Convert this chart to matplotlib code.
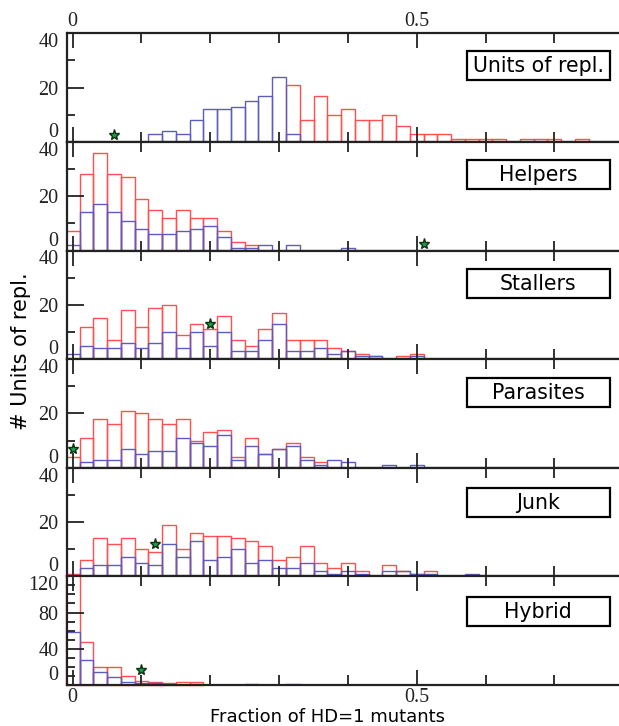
import numpy as np
import matplotlib
matplotlib.use('Agg')
import matplotlib.pyplot as plt
from matplotlib.patches import Rectangle

W, H = 619, 726
DPI = 100
BIN_WIDTH = 0.02

panel_names = ['Units of repl.', 'Helpers', 'Stallers', 'Parasites', 'Junk', 'Hybrid']

# counts per bin, bin k is centred at 0.02*k
units_red = [0, 0, 0, 0, 0, 0, 0, 0, 0, 0, 0, 0, 0, 0, 0, 0, 21, 8, 17, 10,
             12, 8, 8, 10, 6, 3, 3, 3, 1, 1, 1, 1, 0, 1, 1, 1, 0, 1]
units_blue = [0, 0, 0, 0, 0, 0, 3, 4, 3, 8, 12, 12, 13, 15, 17, 24, 3]

helpers_red = [7, 28, 36, 28, 27, 19, 15, 12, 15, 12, 12, 7, 3, 2, 0, 0, 0]
helpers_blue = [2, 14, 17, 14, 11, 8, 6, 6, 7, 8, 9, 5, 1, 1, 2, 0, 2, 0, 0, 0, 1]

stallers_red = [0, 12, 15, 7, 18, 12, 19, 20, 9, 13, 11, 16, 7, 5, 11, 17, 7, 7, 7,
                4, 3, 2, 1, 0, 1, 2]
stallers_blue = [2, 5, 4, 4, 6, 4, 6, 10, 4, 10, 5, 10, 3, 3, 7, 13, 3, 3, 4,
                 2, 3, 1, 1, 0, 0, 1]

parasites_red = [4, 11, 18, 16, 21, 20, 18, 16, 18, 10, 13, 14, 4, 11, 5, 7, 9, 4, 2]
parasites_blue = [0, 2, 3, 3, 7, 5, 6, 6, 11, 9, 8, 12, 3, 8, 5, 7, 8, 3, 1,
                  3, 2, 0, 0, 1, 0, 1]

junk_red = [1, 6, 14, 12, 14, 10, 9, 19, 10, 16, 15, 15, 14, 13, 11, 6, 7, 11, 5,
            3, 5, 2, 0, 4, 2, 1, 2]
junk_blue = [0, 3, 4, 4, 7, 5, 4, 12, 7, 13, 6, 7, 10, 5, 6, 3, 3, 5, 2,
             1, 2, 1, 0, 2, 2, 1, 1, 0, 0, 1]

hybrid_red = [121, 47, 20, 20, 10, 4, 3, 2, 3, 3]
hybrid_blue = [58, 27, 14, 9, 3, 2, 2, 1, 0, 1, 0, 0, 0, 1, 0, 0, 1]

red_series = [units_red, helpers_red, stallers_red, parasites_red, junk_red, hybrid_red]
blue_series = [units_blue, helpers_blue, stallers_blue, parasites_blue, junk_blue, hybrid_blue]

# green star per panel
marker_x = [0.06, 0.51, 0.20, 0.0, 0.12, 0.10]
marker_y = [2.5, 2.5, 13, 7, 12, 16]

y_max = [40, 40, 40, 40, 40, 120]

RED = '#ff4f4f'
BLUE = '#5c5cbc'
SERIF = 'Liberation Serif'


def fx(px):
    return px / W


def fy(py):
    return 1 - py / H


fig = plt.figure(figsize=(W / DPI, H / DPI), dpi=DPI)

left_px, right_px = 66.7, 619
top_px, panel_h = 33.3, 108.6
box_tops = [50.7, 160, 269, 378, 488, 597]

for i, name in enumerate(panel_names):
    t = top_px + i * panel_h
    ax = fig.add_axes([fx(left_px), fy(t + panel_h), fx(right_px) - fx(left_px), panel_h / H])

    red = red_series[i]
    blue = blue_series[i]
    xr = np.arange(len(red)) * BIN_WIDTH
    xb = np.arange(len(blue)) * BIN_WIDTH
    ax.bar(xr, red, width=BIN_WIDTH, fill=False, edgecolor=RED, linewidth=1.0,
           clip_on=(i != 5))
    ax.bar(xb, blue, width=BIN_WIDTH, fill=False, edgecolor=BLUE, linewidth=1.0)
    ax.plot(marker_x[i], marker_y[i], marker='*', markersize=8, mfc='#10a050',
            mec='#103010', mew=1.0, zorder=5, clip_on=False)

    ax.set_xlim(-0.0087, 0.794)
    ax.set_ylim(0, y_max[i])

    ax.set_xticks([0, 0.5])
    ax.set_xticks([0.1, 0.2, 0.3, 0.4, 0.6, 0.7], minor=True)
    ax.set_xticklabels(['0', '0.5'])

    if y_max[i] == 40:
        ax.set_yticks([0, 20, 40])
        ax.set_yticks([10, 30], minor=True)
        ax.set_yticklabels(['0', '20', '40'])
    else:
        ax.set_yticks([0, 40, 80, 120])
        ax.set_yticks([10, 20, 30, 50, 60, 70, 90, 100, 110], minor=True)
        ax.set_yticklabels(['0', '40', '80', '120'])

    ax.tick_params(axis='both', which='both', direction='in', width=1.3,
                   colors='#222222', labelsize=14.5, labelfontfamily=SERIF)
    ax.tick_params(axis='x', which='major', length=11, top=True, bottom=True, pad=2)
    ax.tick_params(axis='x', which='minor', length=7, top=True, bottom=True)
    ax.tick_params(axis='y', which='major', length=12, pad=6)
    ax.tick_params(axis='y', which='minor', length=6)
    ax.tick_params(axis='x', labelbottom=(i == 5), labeltop=(i == 0))

    ticks = ax.yaxis.get_major_ticks()
    ticks[0].label1.set_verticalalignment('bottom')
    ticks[-1].label1.set_verticalalignment('top')

    for side in ['left', 'top', 'bottom']:
        ax.spines[side].set_linewidth(1.6)
        ax.spines[side].set_color('#222222')
    ax.spines['right'].set_visible(False)

    # label box
    bt = box_tops[i]
    fig.patches.append(Rectangle((fx(466.7), fy(bt + 29)), fx(610) - fx(466.7), 29 / H,
                                 transform=fig.transFigure, fill=False,
                                 edgecolor='black', linewidth=1.6, zorder=10))
    fig.text(fx(538.3), fy(bt + 15), name, ha='center', va='center',
             fontsize=14.8, family='DejaVu Sans')

fig.text(fx(21), fy(351), '# Units of repl.', rotation=90, ha='center', va='center',
         fontsize=15, family='DejaVu Sans')
fig.text(fx(327), fy(717), 'Fraction of HD=1 mutants', ha='center', va='center',
         fontsize=13, family='DejaVu Sans')

fig.savefig('out.png', dpi=DPI)
